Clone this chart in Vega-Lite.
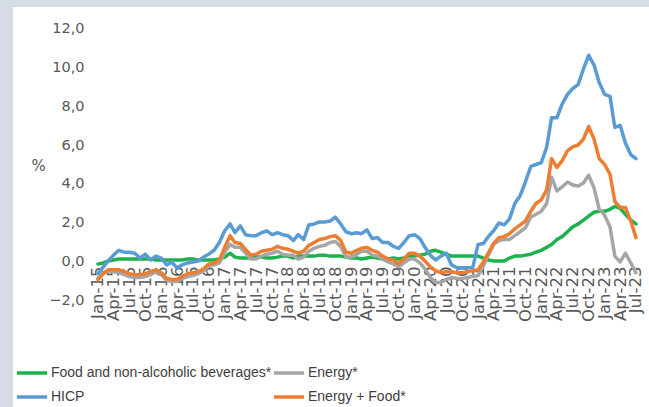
{
  "$schema": "https://vega.github.io/schema/vega-lite/v6.json",
  "width": 636,
  "height": 400,
  "autosize": {"type": "none"},
  "padding": {"left": 13, "top": 7, "right": 0, "bottom": 0},
  "background": "#d5dce4",
  "config": {
    "view": {"fill": "#ffffff", "stroke": null},
    "font": "Liberation Sans"
  },
  "data": {
    "format": {"parse": {"month": "date:'%Y-%m'"}},
    "values": [
      {"month": "2015-01", "food": -0.1, "energy": -0.85, "hicp": -0.6, "energyFood": -0.9},
      {"month": "2015-02", "food": -0.05, "energy": -0.55, "hicp": -0.25, "energyFood": -0.6},
      {"month": "2015-03", "food": 0.05, "energy": -0.45, "hicp": 0.05, "energyFood": -0.4},
      {"month": "2015-04", "food": 0.1, "energy": -0.5, "hicp": 0.35, "energyFood": -0.4},
      {"month": "2015-05", "food": 0.15, "energy": -0.55, "hicp": 0.6, "energyFood": -0.4},
      {"month": "2015-06", "food": 0.15, "energy": -0.65, "hicp": 0.5, "energyFood": -0.5},
      {"month": "2015-07", "food": 0.15, "energy": -0.75, "hicp": 0.5, "energyFood": -0.6},
      {"month": "2015-08", "food": 0.15, "energy": -0.8, "hicp": 0.45, "energyFood": -0.65},
      {"month": "2015-09", "food": 0.15, "energy": -0.8, "hicp": 0.2, "energyFood": -0.65},
      {"month": "2015-10", "food": 0.15, "energy": -0.75, "hicp": 0.4, "energyFood": -0.6},
      {"month": "2015-11", "food": 0.15, "energy": -0.65, "hicp": 0.1, "energyFood": -0.5},
      {"month": "2015-12", "food": 0.1, "energy": -0.5, "hicp": 0.3, "energyFood": -0.4},
      {"month": "2016-01", "food": 0.1, "energy": -0.65, "hicp": 0.2, "energyFood": -0.55},
      {"month": "2016-02", "food": 0.1, "energy": -0.95, "hicp": -0.15, "energyFood": -0.85},
      {"month": "2016-03", "food": 0.1, "energy": -1.0, "hicp": 0.0, "energyFood": -0.9},
      {"month": "2016-04", "food": 0.1, "energy": -1.0, "hicp": -0.3, "energyFood": -0.9},
      {"month": "2016-05", "food": 0.1, "energy": -0.85, "hicp": -0.15, "energyFood": -0.75},
      {"month": "2016-06", "food": 0.15, "energy": -0.75, "hicp": -0.05, "energyFood": -0.6},
      {"month": "2016-07", "food": 0.15, "energy": -0.7, "hicp": 0.0, "energyFood": -0.55},
      {"month": "2016-08", "food": 0.1, "energy": -0.6, "hicp": 0.05, "energyFood": -0.5},
      {"month": "2016-09", "food": 0.1, "energy": -0.45, "hicp": 0.25, "energyFood": -0.35},
      {"month": "2016-10", "food": 0.1, "energy": -0.2, "hicp": 0.4, "energyFood": -0.1},
      {"month": "2016-11", "food": 0.1, "energy": -0.15, "hicp": 0.6, "energyFood": -0.05},
      {"month": "2016-12", "food": 0.15, "energy": -0.05, "hicp": 1.0, "energyFood": 0.1},
      {"month": "2017-01", "food": 0.25, "energy": 0.5, "hicp": 1.6, "energyFood": 0.75},
      {"month": "2017-02", "food": 0.45, "energy": 0.9, "hicp": 1.95, "energyFood": 1.35},
      {"month": "2017-03", "food": 0.25, "energy": 0.75, "hicp": 1.5, "energyFood": 1.0},
      {"month": "2017-04", "food": 0.2, "energy": 0.75, "hicp": 1.85, "energyFood": 0.95},
      {"month": "2017-05", "food": 0.2, "energy": 0.45, "hicp": 1.4, "energyFood": 0.65},
      {"month": "2017-06", "food": 0.2, "energy": 0.15, "hicp": 1.35, "energyFood": 0.35},
      {"month": "2017-07", "food": 0.25, "energy": 0.15, "hicp": 1.35, "energyFood": 0.4},
      {"month": "2017-08", "food": 0.25, "energy": 0.3, "hicp": 1.5, "energyFood": 0.55},
      {"month": "2017-09", "food": 0.2, "energy": 0.4, "hicp": 1.6, "energyFood": 0.6},
      {"month": "2017-10", "food": 0.2, "energy": 0.45, "hicp": 1.4, "energyFood": 0.65},
      {"month": "2017-11", "food": 0.25, "energy": 0.55, "hicp": 1.5, "energyFood": 0.8},
      {"month": "2017-12", "food": 0.3, "energy": 0.4, "hicp": 1.4, "energyFood": 0.7},
      {"month": "2018-01", "food": 0.3, "energy": 0.35, "hicp": 1.35, "energyFood": 0.65},
      {"month": "2018-02", "food": 0.2, "energy": 0.35, "hicp": 1.1, "energyFood": 0.55},
      {"month": "2018-03", "food": 0.3, "energy": 0.15, "hicp": 1.4, "energyFood": 0.45},
      {"month": "2018-04", "food": 0.3, "energy": 0.25, "hicp": 1.15, "energyFood": 0.55},
      {"month": "2018-05", "food": 0.3, "energy": 0.55, "hicp": 1.9, "energyFood": 0.85},
      {"month": "2018-06", "food": 0.3, "energy": 0.7, "hicp": 1.95, "energyFood": 1.0},
      {"month": "2018-07", "food": 0.35, "energy": 0.8, "hicp": 2.05, "energyFood": 1.15},
      {"month": "2018-08", "food": 0.35, "energy": 0.85, "hicp": 2.05, "energyFood": 1.2},
      {"month": "2018-09", "food": 0.3, "energy": 1.0, "hicp": 2.1, "energyFood": 1.3},
      {"month": "2018-10", "food": 0.3, "energy": 1.05, "hicp": 2.3, "energyFood": 1.35},
      {"month": "2018-11", "food": 0.3, "energy": 0.8, "hicp": 1.95, "energyFood": 1.1},
      {"month": "2018-12", "food": 0.25, "energy": 0.25, "hicp": 1.55, "energyFood": 0.5},
      {"month": "2019-01", "food": 0.2, "energy": 0.25, "hicp": 1.45, "energyFood": 0.45},
      {"month": "2019-02", "food": 0.2, "energy": 0.4, "hicp": 1.5, "energyFood": 0.6},
      {"month": "2019-03", "food": 0.15, "energy": 0.55, "hicp": 1.45, "energyFood": 0.7},
      {"month": "2019-04", "food": 0.2, "energy": 0.55, "hicp": 1.65, "energyFood": 0.75},
      {"month": "2019-05", "food": 0.25, "energy": 0.35, "hicp": 1.2, "energyFood": 0.6},
      {"month": "2019-06", "food": 0.2, "energy": 0.3, "hicp": 1.25, "energyFood": 0.5},
      {"month": "2019-07", "food": 0.15, "energy": 0.15, "hicp": 1.0, "energyFood": 0.3},
      {"month": "2019-08", "food": 0.15, "energy": 0.0, "hicp": 1.0, "energyFood": 0.15},
      {"month": "2019-09", "food": 0.2, "energy": -0.1, "hicp": 0.8, "energyFood": 0.1},
      {"month": "2019-10", "food": 0.15, "energy": -0.25, "hicp": 0.7, "energyFood": -0.1},
      {"month": "2019-11", "food": 0.2, "energy": -0.05, "hicp": 1.0, "energyFood": 0.15},
      {"month": "2019-12", "food": 0.3, "energy": 0.15, "hicp": 1.35, "energyFood": 0.45},
      {"month": "2020-01", "food": 0.3, "energy": 0.15, "hicp": 1.4, "energyFood": 0.45},
      {"month": "2020-02", "food": 0.35, "energy": -0.05, "hicp": 1.2, "energyFood": 0.3},
      {"month": "2020-03", "food": 0.4, "energy": -0.35, "hicp": 0.75, "energyFood": 0.05},
      {"month": "2020-04", "food": 0.55, "energy": -0.8, "hicp": 0.35, "energyFood": -0.25},
      {"month": "2020-05", "food": 0.6, "energy": -1.05, "hicp": 0.1, "energyFood": -0.45},
      {"month": "2020-06", "food": 0.5, "energy": -1.05, "hicp": 0.3, "energyFood": -0.55},
      {"month": "2020-07", "food": 0.4, "energy": -0.9, "hicp": 0.45, "energyFood": -0.5},
      {"month": "2020-08", "food": 0.3, "energy": -0.8, "hicp": -0.15, "energyFood": -0.5},
      {"month": "2020-09", "food": 0.3, "energy": -0.85, "hicp": -0.3, "energyFood": -0.55},
      {"month": "2020-10", "food": 0.3, "energy": -0.85, "hicp": -0.3, "energyFood": -0.55},
      {"month": "2020-11", "food": 0.3, "energy": -0.8, "hicp": -0.3, "energyFood": -0.5},
      {"month": "2020-12", "food": 0.3, "energy": -0.75, "hicp": -0.3, "energyFood": -0.45},
      {"month": "2021-01", "food": 0.3, "energy": -0.7, "hicp": 0.9, "energyFood": -0.4},
      {"month": "2021-02", "food": 0.2, "energy": -0.2, "hicp": 0.95, "energyFood": 0.0},
      {"month": "2021-03", "food": 0.1, "energy": 0.35, "hicp": 1.3, "energyFood": 0.45},
      {"month": "2021-04", "food": 0.05, "energy": 0.9, "hicp": 1.6, "energyFood": 0.95},
      {"month": "2021-05", "food": 0.05, "energy": 1.1, "hicp": 2.0, "energyFood": 1.25},
      {"month": "2021-06", "food": 0.05, "energy": 1.15, "hicp": 1.9, "energyFood": 1.3},
      {"month": "2021-07", "food": 0.2, "energy": 1.15, "hicp": 2.2, "energyFood": 1.45},
      {"month": "2021-08", "food": 0.3, "energy": 1.35, "hicp": 3.0, "energyFood": 1.7},
      {"month": "2021-09", "food": 0.3, "energy": 1.55, "hicp": 3.4, "energyFood": 1.9},
      {"month": "2021-10", "food": 0.35, "energy": 1.75, "hicp": 4.1, "energyFood": 2.1},
      {"month": "2021-11", "food": 0.4, "energy": 2.3, "hicp": 4.9, "energyFood": 2.6},
      {"month": "2021-12", "food": 0.5, "energy": 2.45, "hicp": 5.0, "energyFood": 3.0},
      {"month": "2022-01", "food": 0.6, "energy": 2.6, "hicp": 5.1, "energyFood": 3.2},
      {"month": "2022-02", "food": 0.75, "energy": 3.0, "hicp": 5.9, "energyFood": 3.7},
      {"month": "2022-03", "food": 0.9, "energy": 4.35, "hicp": 7.4, "energyFood": 5.3},
      {"month": "2022-04", "food": 1.15, "energy": 3.65, "hicp": 7.4, "energyFood": 4.85},
      {"month": "2022-05", "food": 1.3, "energy": 3.85, "hicp": 8.1, "energyFood": 5.2},
      {"month": "2022-06", "food": 1.55, "energy": 4.1, "hicp": 8.6, "energyFood": 5.7},
      {"month": "2022-07", "food": 1.8, "energy": 3.95, "hicp": 8.9, "energyFood": 5.9},
      {"month": "2022-08", "food": 1.95, "energy": 3.9, "hicp": 9.1, "energyFood": 6.0},
      {"month": "2022-09", "food": 2.15, "energy": 4.05, "hicp": 9.9, "energyFood": 6.3},
      {"month": "2022-10", "food": 2.35, "energy": 4.45, "hicp": 10.6, "energyFood": 6.95},
      {"month": "2022-11", "food": 2.55, "energy": 3.8, "hicp": 10.1, "energyFood": 6.3},
      {"month": "2022-12", "food": 2.6, "energy": 2.7, "hicp": 9.2, "energyFood": 5.3},
      {"month": "2023-01", "food": 2.6, "energy": 2.4, "hicp": 8.6, "energyFood": 5.0},
      {"month": "2023-02", "food": 2.7, "energy": 1.8, "hicp": 8.5, "energyFood": 4.5},
      {"month": "2023-03", "food": 2.85, "energy": 0.3, "hicp": 6.9, "energyFood": 3.1},
      {"month": "2023-04", "food": 2.75, "energy": 0.0, "hicp": 7.0, "energyFood": 2.8},
      {"month": "2023-05", "food": 2.45, "energy": 0.45, "hicp": 6.1, "energyFood": 2.8},
      {"month": "2023-06", "food": 2.15, "energy": -0.05, "hicp": 5.5, "energyFood": 2.1},
      {"month": "2023-07", "food": 1.95, "energy": -0.55, "hicp": 5.3, "energyFood": 1.25}
    ]
  },
  "encoding": {
    "x": {
      "field": "month",
      "type": "temporal",
      "title": null,
      "scale": {"domain": [{"year": 2013, "month": 8, "date": 29}, {"year": 2023, "month": 9, "date": 14}]},
      "axis": {
        "offset": -145,
        "domain": false,
        "ticks": false,
        "tickSize": 0,
        "grid": false,
        "tickCount": {"interval": "month", "step": 3},
        "labelExpr": "datum.value < datetime(2014, 11, 15) || datum.value > datetime(2023, 6, 15) ? '' : timeFormat(datum.value, '%b-%y')",
        "labelAngle": -90,
        "labelPadding": 4,
        "labelFont": "DejaVu Sans",
        "labelFontSize": 16.5,
        "labelColor": "#595959",
        "labelOverlap": false,
        "labelBound": false,
        "labelFlush": false
      }
    },
    "y": {
      "type": "quantitative",
      "title": "%",
      "scale": {"domain": [-7.44, 13.08], "nice": false, "zero": false},
      "axis": {
        "values": [-2, 0, 2, 4, 6, 8, 10, 12],
        "labelExpr": "replace(format(datum.value, '.1f'), '.', ',')",
        "offset": -71,
        "domain": false,
        "ticks": false,
        "tickSize": 0,
        "grid": false,
        "labelPadding": 0,
        "labelFont": "DejaVu Sans",
        "labelFontSize": 14.5,
        "labelColor": "#595959",
        "titleAngle": 0,
        "titleAlign": "center",
        "titleBaseline": "middle",
        "titleX": -46,
        "titleY": 158,
        "titleFont": "DejaVu Sans",
        "titleFontSize": 15,
        "titleFontWeight": "normal",
        "titleColor": "#595959"
      }
    },
    "color": {
      "type": "nominal",
      "scale": {
        "domain": ["Food and non-alcoholic beverages*", "Energy*", "HICP", "Energy + Food*"],
        "range": ["#1db34c", "#a6a6a6", "#5b9bd5", "#ed7d31"]
      },
      "legend": {
        "title": null,
        "orient": "none",
        "legendX": 2,
        "legendY": 349,
        "columns": 2,
        "direction": "horizontal",
        "symbolType": "stroke",
        "symbolSize": 900,
        "symbolStrokeWidth": 3.5,
        "labelFont": "Liberation Sans",
        "labelFontSize": 14,
        "labelColor": "#404040",
        "labelOffset": 2,
        "columnPadding": -7,
        "rowPadding": -2,
        "labelLimit": 400
      }
    }
  },
  "layer": [
    {
      "data": {"values": [{"level": 0}]},
      "mark": {"type": "rule", "color": "#d9d9d9", "strokeWidth": 1.5},
      "encoding": {
        "x": {"datum": {"year": 2015, "month": 1, "date": 1}, "type": "temporal", "title": null},
        "x2": {"datum": {"year": 2023, "month": 7, "date": 1}},
        "y": {"field": "level", "type": "quantitative", "title": "%"},
        "color": {"value": "#d9d9d9"}
      }
    },
    {
      "mark": {"type": "line", "strokeWidth": 3.5, "strokeJoin": "round", "strokeCap": "round"},
      "encoding": {"y": {"field": "food"}, "color": {"datum": "Food and non-alcoholic beverages*"}}
    },
    {
      "mark": {"type": "line", "strokeWidth": 3.5, "strokeJoin": "round", "strokeCap": "round"},
      "encoding": {"y": {"field": "energy"}, "color": {"datum": "Energy*"}}
    },
    {
      "mark": {"type": "line", "strokeWidth": 3.5, "strokeJoin": "round", "strokeCap": "round"},
      "encoding": {"y": {"field": "hicp"}, "color": {"datum": "HICP"}}
    },
    {
      "mark": {"type": "line", "strokeWidth": 3.5, "strokeJoin": "round", "strokeCap": "round"},
      "encoding": {"y": {"field": "energyFood"}, "color": {"datum": "Energy + Food*"}}
    }
  ]
}
